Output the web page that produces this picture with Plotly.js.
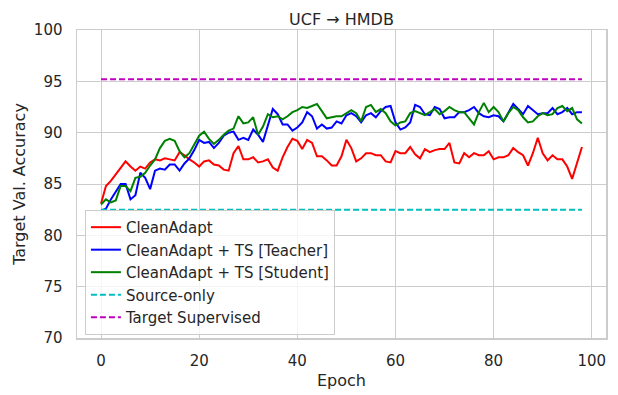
<!DOCTYPE html>
<html>
<head>
<meta charset="utf-8">
<script src="https://cdn.plot.ly/plotly-3.0.1.min.js"></script>
<style>
  html, body { margin: 0; padding: 0; background: #ffffff; }
  #plot { width: 618px; height: 395px; }
</style>
</head>
<body>
<div id="plot"></div>
<script>
// epochs on the x axis
let epochs = [0, 1, 2, 3, 4, 5, 6, 7, 8, 9, 10, 11, 12, 13, 14, 15, 16, 17, 18, 19,
              20, 21, 22, 23, 24, 25, 26, 27, 28, 29, 30, 31, 32, 33, 34, 35, 36, 37, 38, 39,
              40, 41, 42, 43, 44, 45, 46, 47, 48, 49, 50, 51, 52, 53, 54, 55, 56, 57, 58, 59,
              60, 61, 62, 63, 64, 65, 66, 67, 68, 69, 70, 71, 72, 73, 74, 75, 76, 77, 78, 79,
              80, 81, 82, 83, 84, 85, 86, 87, 88, 89, 90, 91, 92, 93, 94, 95, 96, 97, 98];

// target val. accuracy per epoch
let cleanAdapt = [83.1, 84.8, 85.3, 85.9, 86.6, 87.2, 86.7, 86.3, 86.7, 86.5,
                  87.1, 87.4, 87.3, 87.5, 87.4, 87.3, 88.1, 87.8, 87.4, 87.1,
                  86.7, 87.2, 87.3, 86.9, 86.8, 86.4, 86.3, 88.0, 88.7, 87.4,
                  87.4, 87.6, 87.1, 87.2, 87.4, 86.6, 86.3, 87.6, 88.6, 89.4,
                  89.2, 88.4, 89.3, 89.0, 87.7, 87.7, 87.3, 86.8, 86.8, 87.7,
                  89.3, 88.5, 87.2, 87.5, 88.0, 88.0, 87.8, 87.8, 87.2, 87.1,
                  88.2, 88.0, 88.0, 88.6, 87.9, 87.5, 88.4, 88.1, 88.3, 88.4,
                  88.4, 89.0, 87.1, 87.0, 88.0, 87.6, 88.0, 87.8, 87.8, 88.2,
                  87.4, 87.6, 87.6, 87.8, 88.5, 88.1, 87.8, 86.8, 88.0, 89.5,
                  88.0, 87.3, 87.8, 87.4, 87.4, 86.7, 85.5, 87.1, 88.6];

let teacher = [82.4, 82.6, 83.5, 84.3, 85.0, 85.0, 83.5, 83.9, 86.1, 85.6,
               84.5, 86.3, 86.5, 86.4, 86.9, 86.9, 86.3, 87.0, 87.5, 88.3,
               89.3, 89.0, 89.1, 88.5, 89.0, 89.7, 90.0, 90.1, 89.3, 89.5,
               89.3, 90.3, 89.8, 89.1, 90.8, 92.3, 91.8, 90.8, 90.8, 90.2,
               90.5, 91.0, 92.0, 91.6, 90.4, 90.8, 90.4, 90.5, 91.1, 90.9,
               91.7, 91.9, 91.6, 91.0, 91.7, 91.9, 91.5, 92.1, 92.5, 92.6,
               91.0, 90.3, 90.5, 91.0, 92.7, 92.5, 91.8, 91.7, 92.5, 92.3,
               91.4, 91.5, 91.5, 92.0, 92.0, 92.2, 92.5, 91.9, 91.6, 91.5,
               91.7, 91.6, 91.1, 92.0, 92.8, 92.3, 91.8, 92.6, 92.2, 91.8,
               91.9, 91.9, 92.4, 91.8, 92.0, 92.4, 91.8, 92.0, 92.0];

let student = [83.0, 83.5, 83.2, 83.4, 84.8, 84.8, 84.3, 85.6, 85.7, 86.1,
               86.8, 87.4, 88.5, 89.2, 89.4, 89.2, 88.2, 87.6, 88.0, 88.9,
               89.7, 90.1, 89.4, 88.9, 89.3, 89.8, 90.2, 90.4, 91.6, 90.9,
               91.0, 91.5, 89.8, 90.6, 91.8, 91.5, 91.6, 91.3, 91.6, 92.0,
               92.2, 92.5, 92.4, 92.6, 92.8, 92.1, 91.4, 91.5, 91.6, 91.6,
               91.9, 92.2, 91.9, 91.1, 92.5, 92.7, 92.0, 92.3, 91.9, 91.1,
               90.7, 91.0, 91.1, 91.9, 92.1, 91.9, 91.7, 92.0, 92.3, 91.8,
               92.1, 92.5, 92.2, 92.0, 92.0, 91.4, 90.8, 92.0, 92.9, 92.0,
               92.5, 92.0, 91.1, 91.9, 92.5, 92.2, 91.5, 91.0, 91.1, 91.6,
               91.9, 91.7, 91.8, 92.4, 92.6, 92.1, 92.4, 91.3, 90.9];

// reference levels
let sourceOnly = 82.5;
let targetSupervised = 95.2;

let firstEpoch = epochs[0];
let lastEpoch = epochs[epochs.length - 1];

let fontFamily = "DejaVu Sans, sans-serif";
let textColor = "#262626";
let gridColor = "#cccccc";

// create traces
let traceClean = {
    x: epochs, y: cleanAdapt, type: "scatter", mode: "lines",
    name: "CleanAdapt",
    line: {color: "#ff0000", width: 2}
};

let traceTeacher = {
    x: epochs, y: teacher, type: "scatter", mode: "lines",
    name: "CleanAdapt + TS [Teacher]",
    line: {color: "#0000ff", width: 2}
};

let traceStudent = {
    x: epochs, y: student, type: "scatter", mode: "lines",
    name: "CleanAdapt + TS [Student]",
    line: {color: "#008000", width: 2}
};

let traceSource = {
    x: [firstEpoch, lastEpoch], y: [sourceOnly, sourceOnly],
    type: "scatter", mode: "lines",
    name: "Source-only",
    line: {color: "#00bfbf", width: 2, dash: "6px,3px"}
};

let traceTarget = {
    x: [firstEpoch, lastEpoch], y: [targetSupervised, targetSupervised],
    type: "scatter", mode: "lines",
    name: "Target Supervised",
    line: {color: "#bf00bf", width: 2, dash: "6px,3px"}
};

let data = [traceClean, traceTeacher, traceStudent, traceSource, traceTarget];

// layout
let layout = {
    width: 618,
    height: 395,
    margin: {l: 77, r: 12, t: 30, b: 57},
    paper_bgcolor: "#ffffff",
    plot_bgcolor: "#ffffff",
    font: {family: fontFamily, color: textColor, size: 15},
    title: {
        text: "UCF \u2192 HMDB",
        font: {family: fontFamily, size: 16, color: textColor},
        x: 0.5, xref: "paper", xanchor: "center",
        y: 1, yref: "paper", yanchor: "bottom",
        pad: {b: 5}
    },
    xaxis: {
        range: [-4.9, 102.9],
        tickvals: [0, 20, 40, 60, 80, 100],
        ticks: "",
        ticklabelstandoff: 8,
        tickfont: {size: 15, color: textColor},
        showgrid: true, gridcolor: gridColor, gridwidth: 1,
        zeroline: false,
        showline: true, linecolor: gridColor, linewidth: 1.5, mirror: true,
        title: {text: "Epoch", font: {size: 16, color: textColor}, standoff: 6}
    },
    yaxis: {
        range: [70, 100],
        tickvals: [70, 75, 80, 85, 90, 95, 100],
        ticks: "",
        ticklabelstandoff: 10,
        tickfont: {size: 15, color: textColor},
        showgrid: true, gridcolor: gridColor, gridwidth: 1,
        zeroline: false,
        showline: true, linecolor: gridColor, linewidth: 1.5, mirror: true,
        title: {text: "Target Val. Accuracy", font: {size: 16, color: textColor}, standoff: 4}
    },
    legend: {
        x: 0.015, y: 0.01, xanchor: "left", yanchor: "bottom",
        bgcolor: "rgba(255,255,255,0.8)",
        bordercolor: gridColor, borderwidth: 1,
        font: {size: 15, color: textColor}
    },
    showlegend: true
};

Plotly.newPlot("plot", data, layout, {displayModeBar: false, staticPlot: true});
</script>
</body>
</html>
